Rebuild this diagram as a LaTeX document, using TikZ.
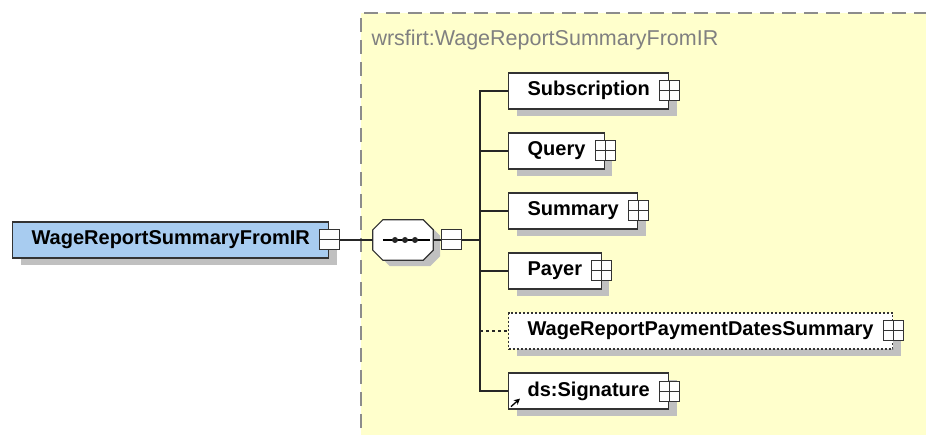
\documentclass[tikz,border=0pt]{standalone}
\usepackage{fontspec}
\setmainfont{Liberation Sans}
\usetikzlibrary{positioning,shadows,arrows.meta}
\definecolor{schemayellow}{RGB}{255,255,204}
\definecolor{elemblue}{RGB}{168,204,240}
\definecolor{shadowgray}{RGB}{192,192,192}
\definecolor{bordergray}{RGB}{140,140,140}
\newcommand{\busx}{480}
\newcommand{\childx}{508}
\newcommand{\cut}{10pt}

\begin{document}
\begin{tikzpicture}[x=1pt,y=-1pt,
  elem/.style={draw=black!80, line width=1.2pt, fill=white,
    font=\bfseries\fontsize{20}{24}\selectfont, text height=14pt, text depth=4pt,
    minimum height=36pt, inner xsep=19pt, anchor=west,
    drop shadow={shadow xshift=8pt, shadow yshift=-7pt, fill=shadowgray, opacity=1}},
  optelem/.style={elem, dash pattern=on 2pt off 2pt},
  expandbox/.style={draw=black!80, line width=1pt, fill=white, minimum size=20pt, inner sep=0pt},
  plusbox/.style={expandbox, path picture={
    \draw[line width=1pt] (path picture bounding box.north) -- (path picture bounding box.south)
      (path picture bounding box.west) -- (path picture bounding box.east);}},
  minusbox/.style={expandbox, path picture={
    \draw[line width=1pt] (path picture bounding box.west) -- (path picture bounding box.east);}},
  seqbox/.style={minimum width=60pt, minimum height=40pt, inner sep=0pt},
  link/.style={line width=1.3pt, black!85},
  title/.style={anchor=west, text=black!50, font=\fontsize{21.5}{26}\selectfont}]

\useasboundingbox (0,0) rectangle (926,435);
\clip (0,0) rectangle (926,435);

% complex type area
\fill[schemayellow] (361,13) rectangle (940,450);
\draw[bordergray, line width=1.5pt, dash pattern=on 14pt off 8pt] (361,450) -- (361,13) -- (940,13);
\node[title] (schematitle) at (368,40) {wrsfirt:WageReportSummaryFromIR};

% root element and sequence
\node[elem, fill=elemblue] (root) at (12,240) {WageReportSummaryFromIR};
\node[minusbox] (rootminus) at (root.east) {};
\node[seqbox] (seq) at (403,240) {};
\draw[draw=black!80, line width=1.2pt, fill=white,
    drop shadow={shadow xshift=7pt, shadow yshift=-6pt, fill=shadowgray, opacity=1}]
  ([xshift=\cut]seq.north west) -- ([xshift=-\cut]seq.north east) -- ([yshift=-\cut]seq.north east)
  -- ([yshift=\cut]seq.south east) -- ([xshift=-\cut]seq.south east) -- ([xshift=\cut]seq.south west)
  -- ([yshift=\cut]seq.south west) -- ([yshift=-\cut]seq.north west) -- cycle;
\draw[line width=1.4pt] ([xshift=10pt]seq.west) -- ([xshift=-3pt]seq.east);
\foreach \dx in {-8,2,12}
  \fill[black!85] ([xshift=\dx pt]seq.center) circle (3pt);
\node[minusbox] (seqminus) at (451,240) {};
\coordinate (bus) at (\busx,240);

% children
\node[elem] (subscription) at (\childx,91) {Subscription};
\node[elem] (query) at (\childx,151) {Query};
\node[elem] (summary) at (\childx,211) {Summary};
\node[elem] (payer) at (\childx,271) {Payer};
\node[optelem] (datessummary) at (\childx,331) {WageReportPaymentDatesSummary};
\node[elem] (signature) at (\childx,391) {ds:Signature};
\draw[-{Stealth[length=6pt,width=6pt]}, line width=1.3pt] ([xshift=3pt,yshift=3pt]signature.south west) -- ++(9pt,8pt);

\foreach \child in {subscription,query,summary,payer,datessummary,signature}
  \node[plusbox] (\child plus) at (\child.east) {};

% connectors
\draw[link] (rootminus) -- (seq.west);
\draw[link] (seq.east) -- (seqminus);
\draw[link] (seqminus) -- (bus);
\draw[link] (subscription.west) -| (bus) |- (signature.west);
\draw[link] (bus |- query.west) -- (query.west);
\draw[link] (bus |- summary.west) -- (summary.west);
\draw[link] (bus |- payer.west) -- (payer.west);
\draw[link, dash pattern=on 3pt off 3pt] (bus |- datessummary.west) -- (datessummary.west);
\end{tikzpicture}
\end{document}
